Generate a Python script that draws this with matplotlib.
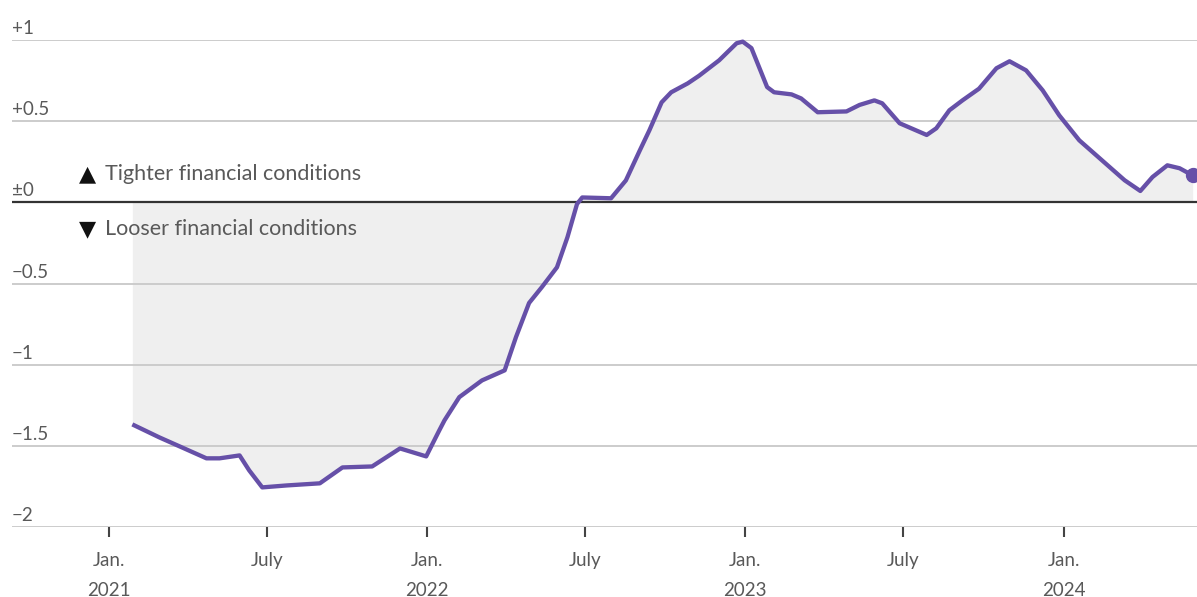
import matplotlib
matplotlib.use("Agg")
import matplotlib.pyplot as plt
import matplotlib.dates as mdates
import matplotlib.transforms as mtransforms
import pandas as pd

# ==========================================
# data
# ==========================================
dates = [
    "2021-01-28", "2021-02-28", "2021-03-26", "2021-04-23", "2021-05-08",
    "2021-05-31", "2021-06-11", "2021-06-26", "2021-07-24", "2021-08-31",
    "2021-09-26", "2021-10-30", "2021-12-01", "2021-12-31", "2022-01-15",
    "2022-01-21", "2022-02-07", "2022-03-05", "2022-03-31", "2022-04-13",
    "2022-04-28", "2022-05-13", "2022-05-30", "2022-06-11", "2022-06-22",
    "2022-06-28", "2022-07-31", "2022-08-17", "2022-09-02", "2022-09-13",
    "2022-09-27", "2022-10-08", "2022-10-27", "2022-11-09", "2022-12-02",
    "2022-12-22", "2022-12-29", "2023-01-08", "2023-01-17", "2023-01-26",
    "2023-02-03", "2023-02-23", "2023-03-06", "2023-03-25", "2023-04-27",
    "2023-05-12", "2023-05-29", "2023-06-07", "2023-06-27", "2023-07-28",
    "2023-08-08", "2023-08-23", "2023-09-07", "2023-09-26", "2023-10-16",
    "2023-10-31", "2023-11-19", "2023-12-08", "2023-12-27", "2024-01-19",
    "2024-02-18", "2024-03-11", "2024-03-29", "2024-04-12", "2024-04-29",
    "2024-05-13", "2024-05-28",
]
values = [
    -1.368, -1.448, -1.51, -1.577, -1.577,
    -1.559, -1.651, -1.756, -1.744, -1.731,
    -1.633, -1.627, -1.516, -1.565, -1.405,
    -1.343, -1.20, -1.097, -1.035, -0.83,
    -0.62, -0.52, -0.40, -0.215, -0.01,
    0.03, 0.025, 0.135, 0.32, 0.444,
    0.616, 0.678, 0.733, 0.78, 0.875,
    0.98, 0.99, 0.95, 0.83, 0.71,
    0.678, 0.665, 0.64, 0.555, 0.56,
    0.60, 0.628, 0.61, 0.487, 0.415,
    0.456, 0.567, 0.628, 0.70, 0.826,
    0.869, 0.813, 0.69, 0.536, 0.382,
    0.24, 0.136, 0.07, 0.156, 0.228,
    0.21, 0.166,
]

y_ticks = [1, 0.5, 0, -0.5, -1, -1.5, -2]
y_labels = ["+1", "+0.5", "±0", "\u22120.5", "\u22121", "\u22121.5", "\u22122"]
x_ticks = ["2021-01-01", "2021-07-01", "2022-01-01", "2022-07-01",
           "2023-01-01", "2023-07-01", "2024-01-01"]
x_labels = ["Jan.\n2021", "July", "Jan.\n2022", "July", "Jan.\n2023", "July", "Jan.\n2024"]

# ==========================================
# styling
# ==========================================
plt.rcParams['font.family'] = ['Lato', 'DejaVu Sans']
LINE = '#6650a8'
FILL = '#efefef'
GRID = '#cccccc'
TEXT = '#595959'

x = mdates.date2num(pd.to_datetime(dates))

fig = plt.figure(figsize=(11.97, 5.97), dpi=100)
ax = fig.add_axes([12 / 1197, 70 / 597, 1185 / 1197, 487 / 597])

ax.fill_between(x, values, 0, color=FILL, lw=0, zorder=1)
for t in y_ticks:
    if t == 0:
        ax.axhline(0, color='#333333', lw=1.6, zorder=2.5)
    else:
        ax.axhline(t, color=GRID, lw=1.4, zorder=2)
ax.plot(x, values, color=LINE, lw=3.1, solid_capstyle='butt',
        solid_joinstyle='round', zorder=3, clip_on=False)
ax.plot(x[-1], values[-1], 'o', color=LINE, ms=10, zorder=4, clip_on=False)

ax.set_ylim(-2, 1)
ax.set_xlim(mdates.date2num(pd.Timestamp("2020-09-12")),
            mdates.date2num(pd.Timestamp("2024-06-02")))

# y labels sit on top of their grid lines
trans = mtransforms.blended_transform_factory(ax.transAxes, ax.transData)
for t, lab in zip(y_ticks, y_labels):
    ax.annotate(lab, xy=(0, t), xycoords=trans, xytext=(0, 3),
                textcoords='offset pixels', ha='left', va='bottom',
                fontsize=13.5, color=TEXT)

ax.set_yticks([])
ax.set_xticks(mdates.date2num(pd.to_datetime(x_ticks)))
ax.set_xticklabels(x_labels, fontsize=13.5, color=TEXT, linespacing=1.9)
ax.tick_params(axis='x', length=7, width=1.5, color='#444444', pad=11)
for s in ax.spines.values():
    s.set_visible(False)

# direction notes
ax.annotate("\u25b2", xy=(67 / 1185, 0.175), xycoords=trans, ha='left', va='center',
            fontsize=16, color='#111111', family=['DejaVu Sans'])
ax.annotate("Tighter financial conditions", xy=(93 / 1185, 0.175), xycoords=trans,
            ha='left', va='center', fontsize=15.5, color=TEXT)
ax.annotate("\u25bc", xy=(67 / 1185, -0.165), xycoords=trans, ha='left', va='center',
            fontsize=16, color='#111111', family=['DejaVu Sans'])
ax.annotate("Looser financial conditions", xy=(93 / 1185, -0.165), xycoords=trans,
            ha='left', va='center', fontsize=15.5, color=TEXT)

fig.savefig("out.png", dpi=100, facecolor='white')
